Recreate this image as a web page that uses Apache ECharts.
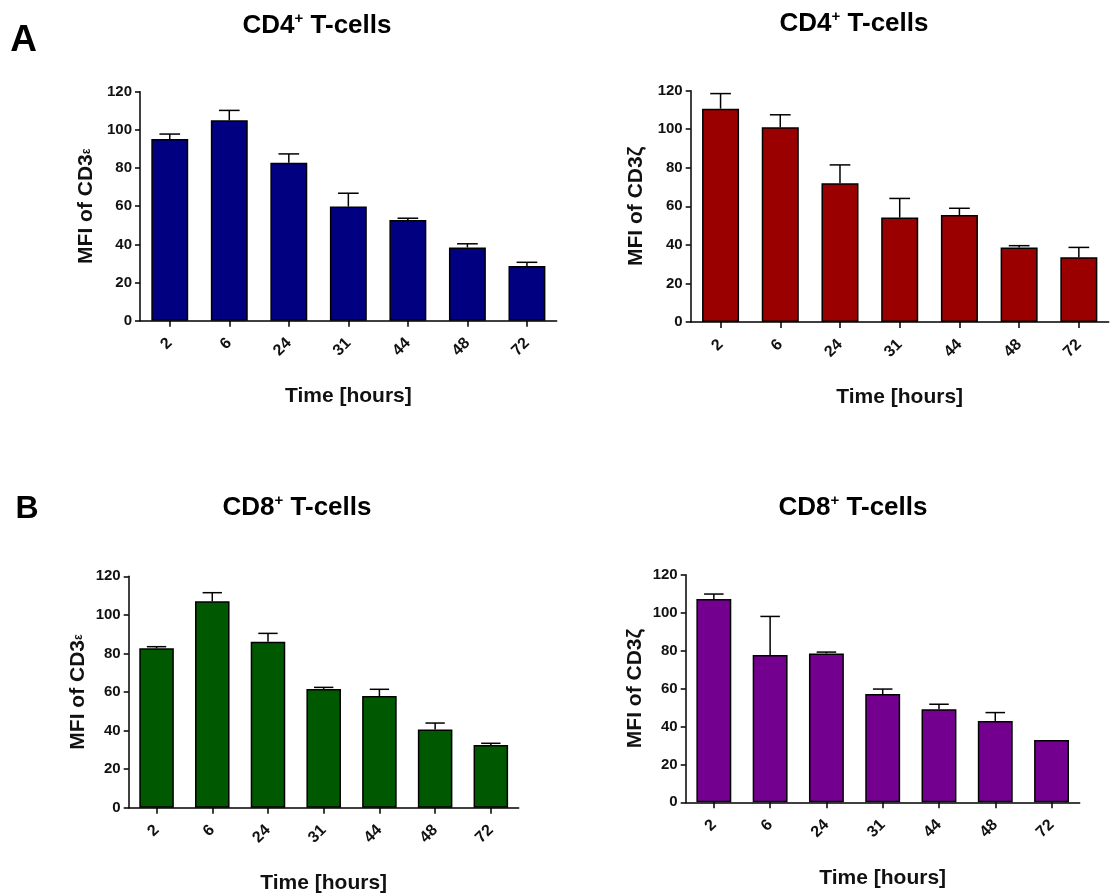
<!DOCTYPE html>
<html>
<head>
<meta charset="utf-8">
<script src="https://cdn.jsdelivr.net/npm/echarts@6/dist/echarts.min.js"></script>
<style>
html,body{margin:0;padding:0;background:#fff;}
#chart{width:1110px;height:895px;}
</style>
</head>
<body>
<div id="chart"></div>
<script>
// ---- data ----
var categories = ['2', '6', '24', '31', '44', '48', '72'];
var yTicks = [0, 20, 40, 60, 80, 100, 120];

var cd4EpsMean = [95.2, 105.0, 82.8, 59.8, 52.8, 38.4, 28.7];
var cd4EpsErr  = [2.6, 5.2, 4.6, 7.0, 0.9, 1.9, 1.9];

var cd4ZetaMean = [110.7, 101.0, 72.0, 54.2, 55.5, 38.7, 33.6];
var cd4ZetaErr  = [7.8, 6.5, 9.5, 9.9, 3.5, 0.9, 5.1];

var cd8EpsMean = [82.7, 107.0, 86.1, 61.6, 57.9, 40.5, 32.5];
var cd8EpsErr  = [0.8, 4.5, 4.3, 0.8, 3.5, 3.4, 0.9];

var cd8ZetaMean = [107.2, 77.7, 78.5, 57.1, 49.0, 42.9, 32.9];
var cd8ZetaErr  = [2.6, 20.3, 0.7, 2.6, 2.7, 4.4, 0.0];

// ---- chart ----
var FONT = "'Liberation Sans', Arial, sans-serif";
var chart = echarts.init(document.getElementById('chart'));

var panels = [
  {grid:{left:140, top:91.7, width:416.7, height:229}, mean:cd4EpsMean, err:cd4EpsErr, color:'#000080', yname:'{a|MFI of CD3}{e|ε}', yGap:43, xGap:65},
  {grid:{left:690.7, top:90.7, width:418, height:231.3}, mean:cd4ZetaMean, err:cd4ZetaErr, color:'#9a0000', yname:'{a|MFI of CD3ζ}', yGap:44, xGap:65},
  {grid:{left:128.7, top:576.3, width:390, height:231.4}, mean:cd8EpsMean, err:cd8EpsErr, color:'#005800', yname:'{a|MFI of CD3}{e|ε}', yGap:40, xGap:65},
  {grid:{left:685.7, top:574.7, width:394, height:227.6}, mean:cd8ZetaMean, err:cd8ZetaErr, color:'#74008f', yname:'{a|MFI of CD3ζ}', yGap:40, xGap:65}
];

var grids = [], xAxes = [], yAxes = [], series = [];
panels.forEach(function(p, i){
  grids.push(p.grid);
  xAxes.push({
    type:'category', gridIndex:i, data:categories, boundaryGap:true,
    axisLine:{show:true, lineStyle:{color:'#000', width:1.5}},
    axisTick:{show:true, alignWithLabel:true, length:6, lineStyle:{color:'#000', width:1.5}},
    axisLabel:{rotate:45, margin:20, fontFamily:FONT, fontWeight:'bold', fontSize:16, color:'#111'},
    splitLine:{show:false},
    name:'Time [hours]', nameLocation:'middle', nameGap:p.xGap,
    nameTextStyle:{fontFamily:FONT, fontWeight:'bold', fontSize:21, color:'#111'}
  });
  yAxes.push({
    type:'value', gridIndex:i, min:yTicks[0], max:yTicks[yTicks.length-1], interval:yTicks[1]-yTicks[0],
    axisLine:{show:true, lineStyle:{color:'#000', width:1.5}},
    axisTick:{show:true, length:5, lineStyle:{color:'#000', width:1.5}},
    axisLabel:{margin:8, fontFamily:FONT, fontWeight:'bold', fontSize:15, color:'#111'},
    splitLine:{show:false},
    name:p.yname, nameLocation:'middle', nameGap:p.yGap, nameRotate:90,
    nameTextStyle:{
      rich:{
        a:{fontFamily:FONT, fontWeight:'bold', fontSize:21, color:'#111'},
        e:{fontFamily:FONT, fontWeight:'bold', fontSize:12, color:'#111'}
      }
    }
  });
  series.push({
    type:'bar', xAxisIndex:i, yAxisIndex:i, data:p.mean, barWidth:'62%',
    itemStyle:{color:p.color, borderColor:'#000', borderWidth:1.5},
    animation:false, silent:true
  });
  var errData = p.mean.map(function(m, k){ return [k, m, p.err[k]]; });
  series.push({
    type:'custom', xAxisIndex:i, yAxisIndex:i, data:errData, z:3,
    animation:false, silent:true,
    renderItem:function(params, api){
      var idx = api.value(0), m = api.value(1), e = api.value(2);
      if (!(e > 0)) return null;
      var p0 = api.coord([idx, m]);
      var p1 = api.coord([idx, m + e]);
      var bw = api.size([1, 0])[0] * 0.62;
      var half = bw * 0.28;
      var st = {stroke:'#000', lineWidth:1.5};
      return {
        type:'group',
        children:[
          {type:'line', shape:{x1:p0[0], y1:p0[1], x2:p1[0], y2:p1[1]}, style:st},
          {type:'line', shape:{x1:p1[0]-half, y1:p1[1], x2:p1[0]+half, y2:p1[1]}, style:st}
        ]
      };
    }
  });
});

function titleText(cd){
  return {
    type:'text', silent:true,
    style:{
      text:'{a|' + cd + '}{s|+}{a| T-cells}',
      textAlign:'center', textVerticalAlign:'middle',
      rich:{
        a:{fontFamily:FONT, fontWeight:'bold', fontSize:26, color:'#111', lineHeight:30},
        s:{fontFamily:FONT, fontWeight:'bold', fontSize:15, color:'#111', verticalAlign:'top', lineHeight:30}
      }
    }
  };
}
var t1 = titleText('CD4'); t1.x = 317; t1.y = 26;
var t2 = titleText('CD4'); t2.x = 854; t2.y = 24;
var t3 = titleText('CD8'); t3.x = 297; t3.y = 508;
var t4 = titleText('CD8'); t4.x = 853; t4.y = 508;

chart.setOption({
  animation:false,
  backgroundColor:'#fff',
  grid:grids, xAxis:xAxes, yAxis:yAxes, series:series,
  graphic:[
    t1, t2, t3, t4,
    {type:'text', x:23.5, y:41, silent:true, style:{text:'A', textAlign:'center', textVerticalAlign:'middle', fontFamily:FONT, fontWeight:'bold', fontSize:37, fill:'#000'}},
    {type:'text', x:27, y:509, silent:true, style:{text:'B', textAlign:'center', textVerticalAlign:'middle', fontFamily:FONT, fontWeight:'bold', fontSize:32, fill:'#000'}}
  ]
});
</script>
</body>
</html>
